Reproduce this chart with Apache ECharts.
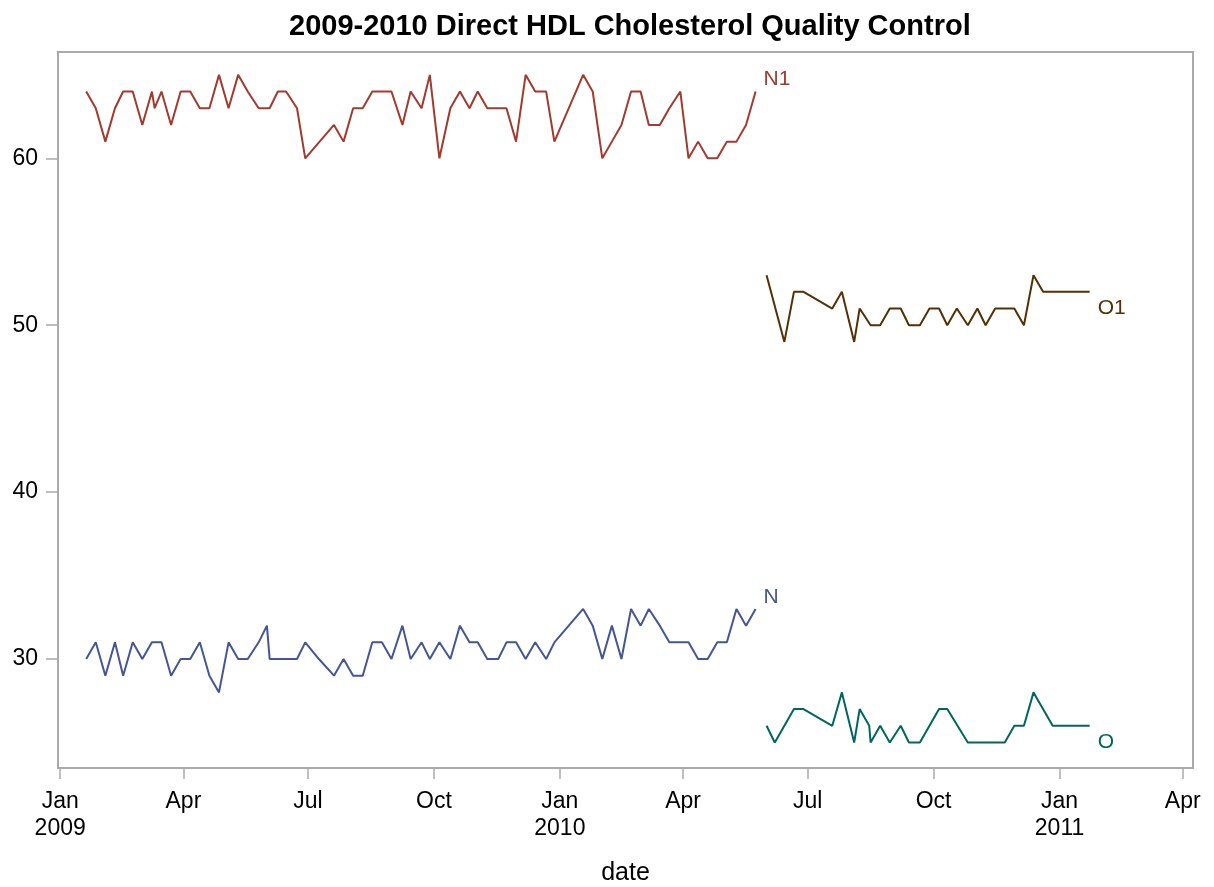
<!DOCTYPE html>
<html>
<head>
<meta charset="utf-8">
<script src="https://cdn.jsdelivr.net/npm/echarts@6/dist/echarts.min.js"></script>
<style>
html,body{margin:0;padding:0;background:#fff;}
#chart{width:1214px;height:887px;}
</style>
</head>
<body>
<div id="chart"></div>
<script>
// ---- Data ----
var n1Dates = ['2009-01-20','2009-01-27','2009-02-03','2009-02-10','2009-02-16','2009-02-23','2009-03-02','2009-03-09','2009-03-11','2009-03-16','2009-03-23','2009-03-30','2009-04-06','2009-04-13','2009-04-20','2009-04-27','2009-05-04','2009-05-11','2009-05-18','2009-05-26','2009-06-03','2009-06-09','2009-06-15','2009-06-23','2009-06-29','2009-07-20','2009-07-27','2009-08-03','2009-08-10','2009-08-17','2009-08-31','2009-09-08','2009-09-14','2009-09-22','2009-09-28','2009-10-05','2009-10-13','2009-10-20','2009-10-27','2009-11-02','2009-11-09','2009-11-17','2009-11-23','2009-11-30','2009-12-07','2009-12-14','2009-12-22','2009-12-28','2010-01-18','2010-01-25','2010-02-01','2010-02-08','2010-02-15','2010-02-22','2010-03-01','2010-03-07','2010-03-15','2010-03-22','2010-03-30','2010-04-05','2010-04-12','2010-04-19','2010-04-26','2010-05-03','2010-05-10','2010-05-17','2010-05-24'];
var n1Values = [64,63,61,63,64,64,62,64,63,64,62,64,64,63,63,65,63,65,64,63,63,64,64,63,60,62,61,63,63,64,64,62,64,63,65,60,63,64,63,64,63,63,63,61,65,64,64,61,65,64,60,61,62,64,64,62,62,63,64,60,61,60,60,61,61,62,64];

var nDates = ['2009-01-20','2009-01-27','2009-02-03','2009-02-10','2009-02-16','2009-02-23','2009-03-02','2009-03-09','2009-03-16','2009-03-23','2009-03-30','2009-04-06','2009-04-13','2009-04-20','2009-04-27','2009-05-04','2009-05-11','2009-05-18','2009-05-26','2009-06-01','2009-06-03','2009-06-23','2009-06-29','2009-07-09','2009-07-20','2009-07-27','2009-08-03','2009-08-10','2009-08-17','2009-08-24','2009-08-31','2009-09-08','2009-09-14','2009-09-22','2009-09-28','2009-10-05','2009-10-13','2009-10-20','2009-10-27','2009-11-02','2009-11-09','2009-11-17','2009-11-23','2009-11-30','2009-12-07','2009-12-14','2009-12-22','2009-12-28','2010-01-18','2010-01-25','2010-02-01','2010-02-08','2010-02-15','2010-02-22','2010-03-01','2010-03-07','2010-03-15','2010-03-22','2010-03-30','2010-04-05','2010-04-12','2010-04-19','2010-04-26','2010-05-03','2010-05-10','2010-05-17','2010-05-24'];
var nValues = [30,31,29,31,29,31,30,31,31,29,30,30,31,29,28,31,30,30,31,32,30,30,31,30,29,30,29,29,31,31,30,32,30,31,30,31,30,32,31,31,30,30,31,31,30,31,30,31,33,32,30,32,30,33,32,33,32,31,31,31,30,30,31,31,33,32,33];

var o1Dates = ['2010-06-01','2010-06-14','2010-06-21','2010-06-28','2010-07-19','2010-07-26','2010-08-04','2010-08-08','2010-08-16','2010-08-23','2010-08-30','2010-09-07','2010-09-13','2010-09-21','2010-09-28','2010-10-05','2010-10-11','2010-10-18','2010-10-26','2010-11-02','2010-11-08','2010-11-15','2010-11-22','2010-11-29','2010-12-06','2010-12-13','2010-12-20','2011-01-23'];
var o1Values = [53,49,52,52,51,52,49,51,50,50,51,51,50,50,51,51,50,51,50,51,50,51,51,51,50,53,52,52];

var oDates = ['2010-06-01','2010-06-07','2010-06-21','2010-06-28','2010-07-19','2010-07-26','2010-08-04','2010-08-08','2010-08-15','2010-08-16','2010-08-23','2010-08-30','2010-09-07','2010-09-13','2010-09-21','2010-10-05','2010-10-11','2010-10-26','2010-11-22','2010-11-29','2010-12-06','2010-12-13','2010-12-27','2011-01-23'];
var oValues = [26,25,27,27,26,28,25,27,26,25,26,25,26,25,25,27,27,25,25,26,26,28,26,26];

var yTicks = [30, 40, 50, 60];
var xTickDates = ['2009-01-01','2009-04-01','2009-07-01','2009-10-01','2010-01-01','2010-04-01','2010-07-01','2010-10-01','2011-01-01','2011-04-01'];
var monthNames = ['Jan','Feb','Mar','Apr','May','Jun','Jul','Aug','Sep','Oct','Nov','Dec'];

// ---- Helpers ----
function toTime(s) {
  var p = s.split('-');
  return new Date(+p[0], +p[1] - 1, +p[2]).getTime();
}
function pairs(dates, vals) {
  return dates.map(function (d, i) { return [toTime(d), vals[i]]; });
}
var DAY = 86400000;
var xTickValues = xTickDates.map(toTime);

var FONT = "'Liberation Sans', Arial, sans-serif";
var colors = { N: '#445694', N1: '#A23A2E', O: '#01665E', O1: '#543005' };

function lineSeries(name, data, color, offset) {
  return {
    name: name,
    type: 'line',
    data: data,
    showSymbol: false,
    symbol: 'none',
    smooth: false,
    lineStyle: { color: color, width: 2 },
    itemStyle: { color: color },
    emphasis: { disabled: true },
    endLabel: {
      show: true,
      formatter: name,
      color: color,
      fontFamily: FONT,
      fontSize: 21,
      distance: 6,
      offset: offset
    }
  };
}

var chart = echarts.init(document.getElementById('chart'), null, { renderer: 'canvas' });
chart.setOption({
  animation: false,
  backgroundColor: '#fff',
  title: {
    text: '2009-2010 Direct HDL Cholesterol Quality Control',
    left: 284,
    top: 7,
    textStyle: { fontFamily: FONT, fontWeight: 'bold', fontSize: 29, color: '#000' }
  },
  grid: {
    left: 58, right: 21, top: 52, bottom: 119,
    show: true, borderColor: '#aaaaaa', borderWidth: 2, containLabel: false,
    outerBoundsMode: 'none'
  },
  xAxis: {
    type: 'value',
    min: toTime('2009-01-01') - 1.6 * DAY,
    max: toTime('2011-04-01') + 7.5 * DAY,
    name: 'date',
    nameLocation: 'middle',
    nameGap: 93,
    nameTextStyle: { fontFamily: FONT, fontSize: 25, color: '#000' },
    axisLine: { show: true, lineStyle: { color: '#aaaaaa', width: 2 } },
    axisTick: { show: true, customValues: xTickValues, length: 11, lineStyle: { color: '#aaaaaa', width: 1.5 } },
    axisLabel: {
      customValues: xTickValues,
      fontFamily: FONT, fontSize: 23, color: '#000', lineHeight: 27, margin: 20,
      formatter: function (v) {
        var d = new Date(v);
        var m = monthNames[d.getMonth()];
        return d.getMonth() === 0 ? m + '\n' + d.getFullYear() : m;
      }
    },
    splitLine: { show: false }
  },
  yAxis: {
    type: 'value',
    min: 23.47,
    max: 66.37,
    axisLine: { show: true, lineStyle: { color: '#aaaaaa', width: 2 } },
    axisTick: { show: true, customValues: yTicks, length: 12, lineStyle: { color: '#aaaaaa', width: 1.5 } },
    axisLabel: { customValues: yTicks, fontFamily: FONT, fontSize: 23, color: '#000', margin: 20 },
    splitLine: { show: false }
  },
  series: [
    lineSeries('N1', pairs(n1Dates, n1Values), colors.N1, [2, -12]),
    lineSeries('N', pairs(nDates, nValues), colors.N, [2, -12]),
    lineSeries('O1', pairs(o1Dates, o1Values), colors.O1, [2, 16]),
    lineSeries('O', pairs(oDates, oValues), colors.O, [2, 16])
  ]
});
</script>
</body>
</html>
